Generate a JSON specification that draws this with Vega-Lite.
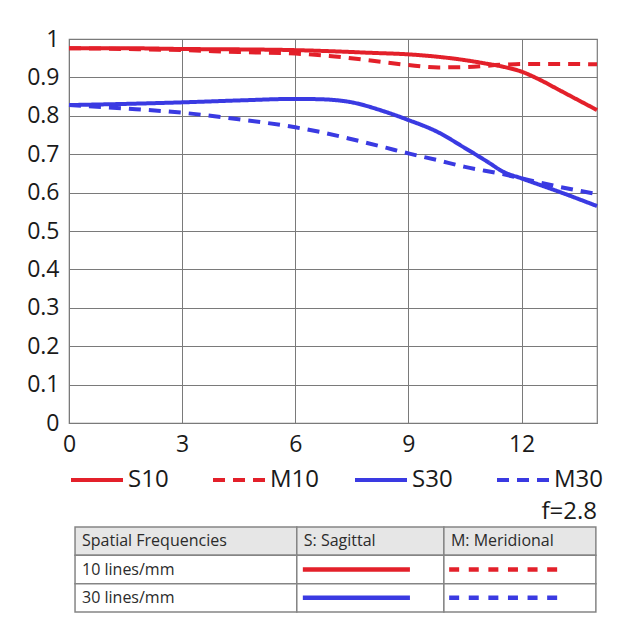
{
  "$schema": "https://vega.github.io/schema/vega-lite/v6.json",
  "background": "white",
  "padding": {"left": 26, "top": 27, "right": 5, "bottom": 5},
  "config": {
    "font": "Open Sans",
    "view": {"stroke": "#7a7a7a", "strokeWidth": 1.2}
  },
  "datasets": {
    "mtf": [
      {"series": "S10", "pos": 0, "mtf": 0.976},
      {"series": "S10", "pos": 1.5, "mtf": 0.976},
      {"series": "S10", "pos": 3, "mtf": 0.974},
      {"series": "S10", "pos": 4.5, "mtf": 0.973},
      {"series": "S10", "pos": 6, "mtf": 0.971},
      {"series": "S10", "pos": 7, "mtf": 0.968},
      {"series": "S10", "pos": 8, "mtf": 0.964},
      {"series": "S10", "pos": 9, "mtf": 0.96},
      {"series": "S10", "pos": 9.75, "mtf": 0.954},
      {"series": "S10", "pos": 10.5, "mtf": 0.945},
      {"series": "S10", "pos": 11, "mtf": 0.937},
      {"series": "S10", "pos": 11.5, "mtf": 0.928},
      {"series": "S10", "pos": 12, "mtf": 0.915},
      {"series": "S10", "pos": 12.5, "mtf": 0.893},
      {"series": "S10", "pos": 13, "mtf": 0.867},
      {"series": "S10", "pos": 13.5, "mtf": 0.841},
      {"series": "S10", "pos": 14, "mtf": 0.815},
      {"series": "M10", "pos": 0, "mtf": 0.976},
      {"series": "M10", "pos": 1.5, "mtf": 0.974},
      {"series": "M10", "pos": 3, "mtf": 0.971},
      {"series": "M10", "pos": 4.5, "mtf": 0.966},
      {"series": "M10", "pos": 6, "mtf": 0.962},
      {"series": "M10", "pos": 6.9, "mtf": 0.956},
      {"series": "M10", "pos": 8, "mtf": 0.944},
      {"series": "M10", "pos": 9, "mtf": 0.932},
      {"series": "M10", "pos": 9.8, "mtf": 0.926},
      {"series": "M10", "pos": 10.5, "mtf": 0.927},
      {"series": "M10", "pos": 11.5, "mtf": 0.933},
      {"series": "M10", "pos": 12, "mtf": 0.935},
      {"series": "M10", "pos": 13, "mtf": 0.935},
      {"series": "M10", "pos": 14, "mtf": 0.934},
      {"series": "S30", "pos": 0, "mtf": 0.828},
      {"series": "S30", "pos": 1.5, "mtf": 0.831},
      {"series": "S30", "pos": 3, "mtf": 0.835},
      {"series": "S30", "pos": 4.5, "mtf": 0.84},
      {"series": "S30", "pos": 6, "mtf": 0.844},
      {"series": "S30", "pos": 6.7, "mtf": 0.843},
      {"series": "S30", "pos": 7.5, "mtf": 0.835},
      {"series": "S30", "pos": 8.4, "mtf": 0.81},
      {"series": "S30", "pos": 9, "mtf": 0.789},
      {"series": "S30", "pos": 9.75, "mtf": 0.759},
      {"series": "S30", "pos": 10.5, "mtf": 0.716},
      {"series": "S30", "pos": 11.1, "mtf": 0.68},
      {"series": "S30", "pos": 11.5, "mtf": 0.655},
      {"series": "S30", "pos": 12, "mtf": 0.637},
      {"series": "S30", "pos": 13, "mtf": 0.602},
      {"series": "S30", "pos": 14, "mtf": 0.565},
      {"series": "M30", "pos": 0, "mtf": 0.828},
      {"series": "M30", "pos": 1.5, "mtf": 0.819},
      {"series": "M30", "pos": 3, "mtf": 0.808},
      {"series": "M30", "pos": 4.5, "mtf": 0.791},
      {"series": "M30", "pos": 6, "mtf": 0.77},
      {"series": "M30", "pos": 6.7, "mtf": 0.757},
      {"series": "M30", "pos": 7.5, "mtf": 0.739},
      {"series": "M30", "pos": 8.4, "mtf": 0.717},
      {"series": "M30", "pos": 9, "mtf": 0.702},
      {"series": "M30", "pos": 9.75, "mtf": 0.685},
      {"series": "M30", "pos": 10.5, "mtf": 0.667},
      {"series": "M30", "pos": 11.5, "mtf": 0.648},
      {"series": "M30", "pos": 12, "mtf": 0.637},
      {"series": "M30", "pos": 13, "mtf": 0.615},
      {"series": "M30", "pos": 14, "mtf": 0.596}
    ],
    "cells": [
      {"row": "head", "x0": 0.16, "x1": 6.04, "label": "Spatial Frequencies"},
      {"row": "head", "x0": 6.04, "x1": 9.94, "label": "S: Sagittal"},
      {"row": "head", "x0": 9.94, "x1": 13.97, "label": "M: Meridional"},
      {"row": "10", "x0": 0.16, "x1": 6.04, "label": "10 lines/mm"},
      {"row": "10", "x0": 6.04, "x1": 9.94, "label": ""},
      {"row": "10", "x0": 9.94, "x1": 13.97, "label": ""},
      {"row": "30", "x0": 0.16, "x1": 6.04, "label": "30 lines/mm"},
      {"row": "30", "x0": 6.04, "x1": 9.94, "label": ""},
      {"row": "30", "x0": 9.94, "x1": 13.97, "label": ""}
    ],
    "samples": [
      {"row": "10", "series": "S10", "x0": 6.2, "x1": 9.04},
      {"row": "10", "series": "M10", "x0": 10.08, "x1": 12.99},
      {"row": "30", "series": "S30", "x0": 6.2, "x1": 9.04},
      {"row": "30", "series": "M30", "x0": 10.08, "x1": 12.99}
    ]
  },
  "bounds": "flush",
  "spacing": 104,
  "resolve": {
    "scale": {"x": "independent", "y": "independent", "color": "independent", "strokeDash": "independent"},
    "legend": {"color": "independent", "strokeDash": "independent"}
  },
  "vconcat": [
    {
      "width": 528,
      "height": 384,
      "data": {"name": "mtf"},
      "mark": {"type": "line", "strokeWidth": 4, "interpolate": "monotone"},
      "encoding": {
        "x": {
          "field": "pos",
          "type": "quantitative",
          "scale": {"domain": [0, 14], "nice": false},
          "axis": {
            "title": null,
            "values": [0, 3, 6, 9, 12],
            "grid": true,
            "gridColor": "#7a7a7a",
            "gridOpacity": 1,
            "domainColor": "#7a7a7a",
            "ticks": false,
            "labelFontSize": 23,
            "labelColor": "#1a1a1a",
            "labelPadding": 10,
            "labelFlush": false
          }
        },
        "y": {
          "field": "mtf",
          "type": "quantitative",
          "scale": {"domain": [0, 1], "nice": false},
          "axis": {
            "title": null,
            "values": [0, 0.1, 0.2, 0.3, 0.4, 0.5, 0.6, 0.7, 0.8, 0.9, 1],
            "format": "~g",
            "grid": true,
            "gridColor": "#7a7a7a",
            "gridOpacity": 1,
            "domainColor": "#7a7a7a",
            "ticks": false,
            "labelFontSize": 23,
            "labelColor": "#1a1a1a",
            "labelPadding": 10,
            "labelFlush": false
          }
        },
        "color": {
          "field": "series",
          "type": "nominal",
          "scale": {"domain": ["S10", "M10", "S30", "M30"], "range": ["#e3202a", "#e3202a", "#3a3ae2", "#3a3ae2"]},
          "legend": {
            "title": null,
            "orient": "bottom",
            "direction": "horizontal",
            "columns": 4,
            "gridAlign": "all",
            "columnPadding": 27,
            "offset": -4,
            "symbolType": "stroke",
            "symbolSize": 2704,
            "symbolStrokeWidth": 4,
            "labelFontSize": 24,
            "labelColor": "#1a1a1a",
            "labelOffset": 3
          }
        },
        "strokeDash": {
          "field": "series",
          "type": "nominal",
          "scale": {"domain": ["S10", "M10", "S30", "M30"], "range": [[1, 0], [12, 8], [1, 0], [12, 8]]},
          "legend": {
            "title": null,
            "orient": "bottom",
            "direction": "horizontal",
            "columns": 4,
            "gridAlign": "all",
            "columnPadding": 27,
            "offset": -4,
            "symbolType": "stroke",
            "symbolSize": 2704,
            "symbolStrokeWidth": 4,
            "labelFontSize": 24,
            "labelColor": "#1a1a1a",
            "labelOffset": 3
          }
        }
      }
    },
    {
      "width": 528,
      "height": 85,
      "view": {"stroke": null},
      "title": {
        "text": "f=2.8",
        "anchor": "end",
        "frame": "group",
        "fontSize": 24,
        "fontWeight": "normal",
        "color": "#1a1a1a",
        "baseline": "alphabetic",
        "offset": 7,
        "dy": 24
      },
      "layer": [
        {
          "data": {"name": "cells"},
          "mark": {"type": "rect", "stroke": "#858585", "strokeWidth": 1.5},
          "encoding": {
            "x": {"field": "x0", "type": "quantitative", "scale": {"domain": [0, 14], "nice": false}, "axis": null},
            "x2": {"field": "x1"},
            "y": {"field": "row", "type": "ordinal", "scale": {"domain": ["head", "10", "30"], "paddingInner": 0, "paddingOuter": 0}, "axis": null},
            "fill": {"condition": {"test": "datum.row == 'head'", "value": "#e6e6e6"}, "value": "#ffffff"}
          }
        },
        {
          "data": {"name": "cells"},
          "mark": {"type": "text", "align": "left", "baseline": "middle", "dx": 7, "fontSize": 16, "color": "#2b2b2b"},
          "encoding": {
            "x": {"field": "x0", "type": "quantitative"},
            "y": {"field": "row", "type": "ordinal"},
            "text": {"field": "label"}
          }
        },
        {
          "data": {"name": "samples"},
          "mark": {"type": "rule", "strokeWidth": 4.5},
          "encoding": {
            "x": {"field": "x0", "type": "quantitative"},
            "x2": {"field": "x1"},
            "y": {"field": "row", "type": "ordinal"},
            "color": {
              "field": "series",
              "type": "nominal",
              "scale": {"domain": ["S10", "M10", "S30", "M30"], "range": ["#e3202a", "#e3202a", "#3a3ae2", "#3a3ae2"]},
              "legend": null
            },
            "strokeDash": {
              "field": "series",
              "type": "nominal",
              "scale": {"domain": ["S10", "M10", "S30", "M30"], "range": [[1, 0], [10, 9.6], [1, 0], [10, 9.6]]},
              "legend": null
            }
          }
        }
      ]
    }
  ]
}
